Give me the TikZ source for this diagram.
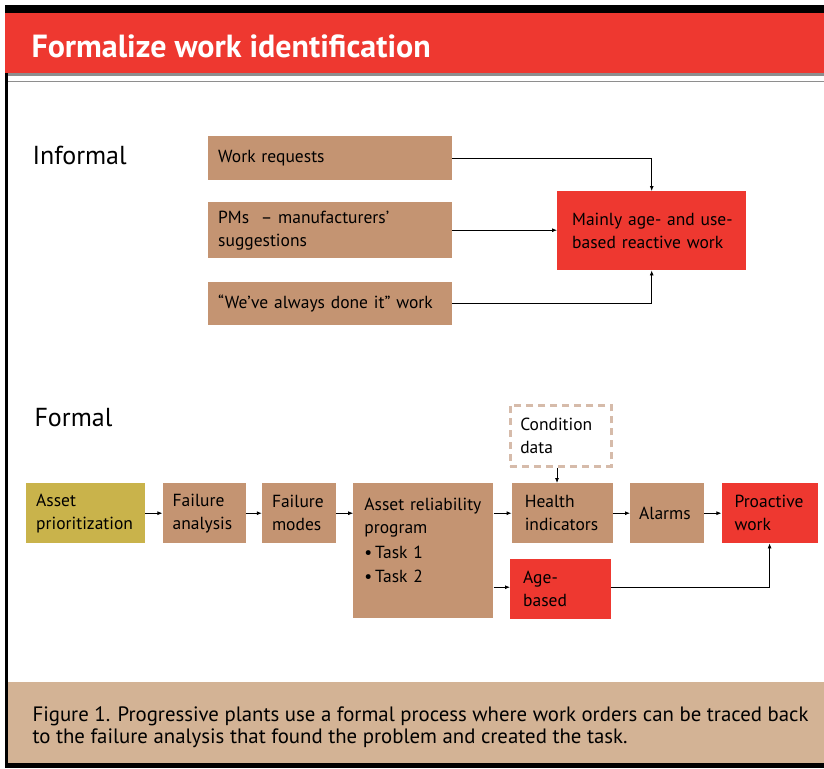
\documentclass[tikz,border=0pt]{standalone}
\usepackage{fontspec}
\setmainfont{PT Sans}
\usetikzlibrary{arrows.meta, positioning, calc}

\definecolor{headred}{HTML}{EE3830}
\definecolor{worktan}{HTML}{C49472}
\definecolor{captiontan}{HTML}{D3B395}
\definecolor{assetolive}{HTML}{C9B34B}
\definecolor{dashtan}{HTML}{D6BBAA}
\definecolor{rulegrey}{HTML}{8E8E8E}

\begin{document}
\begin{tikzpicture}[
    x=1pt, y=-1pt,
    font=\fontsize{17.5}{23}\selectfont,
    workbox/.style={rectangle, fill=worktan, inner xsep=10pt, inner ysep=0pt, align=left, anchor=north west},
    redbox/.style={workbox, fill=headred},
    dashbox/.style={workbox, fill=none, draw=dashtan, line width=2.5pt, dash pattern=on 7pt off 5pt},
    arrow/.style={-{Latex[length=5pt, width=4pt]}, line width=0.8pt}
]
\useasboundingbox (0,0) rectangle (824,768);

% Frame
\fill[black] (5,5) rectangle (824,13);
\fill[headred] (5,13) rectangle (824,73);
\fill[rulegrey] (5,73) rectangle (824,76);
\fill[rulegrey] (5,80.5) rectangle (824,82);
\fill[black] (5,73) rectangle (7.5,768);
\fill[captiontan] (7.5,682) rectangle (824,763);
\fill[black] (5,763) rectangle (824,768);

\node[anchor=base west, text=white, font=\fontsize{32}{34}\selectfont\bfseries] (title) at (28,57) {Formalize work identification};

% Informal
\node[anchor=base west, font=\fontsize{26}{28}\selectfont] (informal) at (29,164) {Informal};
\node[workbox, text width=224pt, minimum height=44pt] (req) at (208,136) {Work requests};
\node[workbox, text width=224pt, minimum height=56pt] (pm) at (208,202) {PMs \ -- manufacturers'\\suggestions};
\node[workbox, text width=224pt, minimum height=43pt] (always) at (208,282) {``We've always done it'' work};
\node[redbox, inner xsep=15pt, text width=159pt, minimum height=79pt] (mainly) at (557,191) {\mbox{Mainly age- and use-}\\\mbox{based reactive work}};

% Formal
\node[anchor=base west, font=\fontsize{26}{28}\selectfont] (formal) at (31,426) {Formal};
\node[workbox, fill=assetolive, text width=99pt, minimum height=60pt] (prio) at (26,483) {Asset\\prioritization};
\node[workbox, text width=63pt, minimum height=60pt, right=17pt of prio.north east, anchor=north west] (fa) {Failure\\analysis};
\node[workbox, text width=54pt, minimum height=60pt, right=16pt of fa.north east, anchor=north west] (fm) {Failure\\modes};
\node[workbox, inner xsep=11pt, text width=118pt, minimum height=135pt, right=17pt of fm.north east, anchor=north west] (arp)
    {\parbox[t][124pt][t]{118pt}{\vspace{9pt}Asset reliability\\program\\[2pt]\textbullet\,Task 1\\[1pt]\textbullet\,Task 2}};
\node[workbox, inner xsep=13pt, text width=75pt, minimum height=60pt, right=18pt of arp.north east, anchor=north west] (health) {Health\\indicators};
\node[workbox, inner xsep=9pt, text width=56pt, minimum height=60pt, right=17pt of health.north east, anchor=north west] (alarms) {Alarms};
\node[redbox, inner xsep=13pt, text width=70pt, minimum height=60pt, right=17pt of alarms.north east, anchor=north west] (proactive) {Proactive\\work};
\node[redbox, inner xsep=13pt, text width=75pt, minimum height=60pt] (age) at (510,559) {Age-\\based};
\node[dashbox, text width=81pt, minimum height=61pt] (cond) at (509,404) {Condition\\data};

% Connections
\draw[arrow] (req.east) -| (mainly.north);
\draw[arrow] (pm.east) -- (pm.east -| mainly.west);
\draw[arrow] (always.east) -| (mainly.south);
\draw[arrow] (prio) -- (fa);
\draw[arrow] (fa) -- (fm);
\draw[arrow] (fm.east) -- (fm.east -| arp.west);
\draw[arrow] (health.west -| arp.east) -- (health.west);
\draw[arrow] ($(age.west -| arp.east)+(0,-2)$) -- ($(age.west)+(0,-2)$);
\draw[arrow] (health) -- (alarms);
\draw[arrow] (alarms) -- (proactive);
\draw[arrow] ($(age.east)+(0,-2)$) -| (proactive.south);
\draw[arrow] (cond.south -| 557,0) -- (health.north -| 557,0);

% Caption
\node[anchor=north west, align=left, font=\fontsize{20.8}{22}\selectfont] (caption) at (29,703)
    {Figure 1. Progressive plants use a formal process where work orders can be traced back\\to the failure analysis that found the problem and created the task.};
\end{tikzpicture}
\end{document}
